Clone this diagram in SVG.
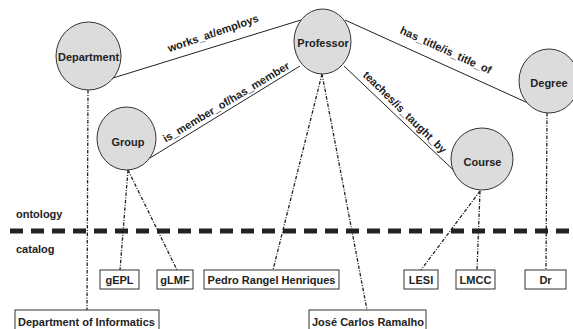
<svg xmlns="http://www.w3.org/2000/svg" width="573" height="329" viewBox="0 0 573 329">
<style>
text{font-family:"Liberation Sans",Arial,sans-serif;font-size:11px;font-weight:bold;fill:#222}
.n ellipse{fill:#dcdcdc;stroke:#333;stroke-width:1}
.b rect{fill:#fff;stroke:#333;stroke-width:1}
.e{stroke:#222;stroke-width:1;fill:none}
.d{stroke:#222;stroke-width:1.3;fill:none;stroke-dasharray:3.5,1.5,1,1.5}
.c{text-anchor:middle}
</style>
<rect width="573" height="329" fill="#fff"/>
<g id="separator">
<line x1="10" y1="231" x2="573" y2="231" stroke="#222" stroke-width="5" stroke-dasharray="13,8"/>
<text x="16" y="218">ontology</text>
<text x="16" y="253">catalog</text>
</g>
<g id="connectors">
<line class="e" x1="113" y1="78" x2="301" y2="20"/>
<line class="e" x1="150" y1="158" x2="300" y2="66"/>
<line class="e" x1="345" y1="20" x2="528" y2="103"/>
<line class="e" x1="344" y1="66" x2="466" y2="182"/>
<line class="d" x1="88" y1="90" x2="87" y2="310"/>
<line class="d" x1="128" y1="170" x2="120" y2="270"/>
<line class="d" x1="128" y1="170" x2="177" y2="270"/>
<line class="d" x1="322" y1="74" x2="273" y2="270"/>
<line class="d" x1="322" y1="74" x2="367" y2="310"/>
<line class="d" x1="480" y1="191" x2="421" y2="270"/>
<line class="d" x1="480" y1="191" x2="477" y2="270"/>
<line class="d" x1="547" y1="113" x2="546" y2="270"/>
<text class="c" transform="translate(214.3,36.8) rotate(-19)">works_at/employs</text>
<text class="c" transform="translate(228,105.4) rotate(-31)">is_member_of/has_member</text>
<text class="c" transform="translate(444.3,53.6) rotate(24.5)">has_title/is_title_of</text>
<text class="c" transform="translate(402.2,114.9) rotate(44.5)">teaches/is_taught_by</text>
</g>
<g id="department" class="n"><ellipse cx="88.5" cy="56" rx="32.5" ry="34"/><text class="c" x="88.5" y="61">Department</text></g>
<g id="professor" class="n"><ellipse cx="322.5" cy="41.5" rx="28.5" ry="32.5"/><text class="c" x="323" y="47">Professor</text></g>
<g id="group" class="n"><ellipse cx="126.5" cy="138.5" rx="29.5" ry="31.5"/><text class="c" x="128" y="146">Group</text></g>
<g id="degree" class="n"><ellipse cx="549" cy="81" rx="30" ry="32"/><text class="c" x="549" y="87">Degree</text></g>
<g id="course" class="n"><ellipse cx="482" cy="159" rx="31" ry="31"/><text class="c" x="482.5" y="166">Course</text></g>
<g id="gEPL" class="b"><rect x="100" y="270" width="39" height="19"/><text class="c" x="119.5" y="284">gEPL</text></g>
<g id="gLMF" class="b"><rect x="157" y="270" width="36" height="19"/><text class="c" x="175" y="284">gLMF</text></g>
<g id="pedro" class="b"><rect x="204" y="270" width="135" height="19"/><text class="c" x="271.5" y="284">Pedro Rangel Henriques</text></g>
<g id="lesi" class="b"><rect x="404" y="270" width="34" height="19"/><text class="c" x="421" y="284">LESI</text></g>
<g id="lmcc" class="b"><rect x="456" y="270" width="39" height="19"/><text class="c" x="475.5" y="284">LMCC</text></g>
<g id="dr" class="b"><rect x="525" y="270" width="41" height="19"/><text class="c" x="545.5" y="284">Dr</text></g>
<g id="deptinf" class="b"><rect x="15" y="310" width="144" height="25"/><text x="18" y="326">Department of Informatics</text></g>
<g id="jose" class="b"><rect x="309" y="310" width="117" height="25"/><text x="312" y="326">José Carlos Ramalho</text></g>
</svg>
